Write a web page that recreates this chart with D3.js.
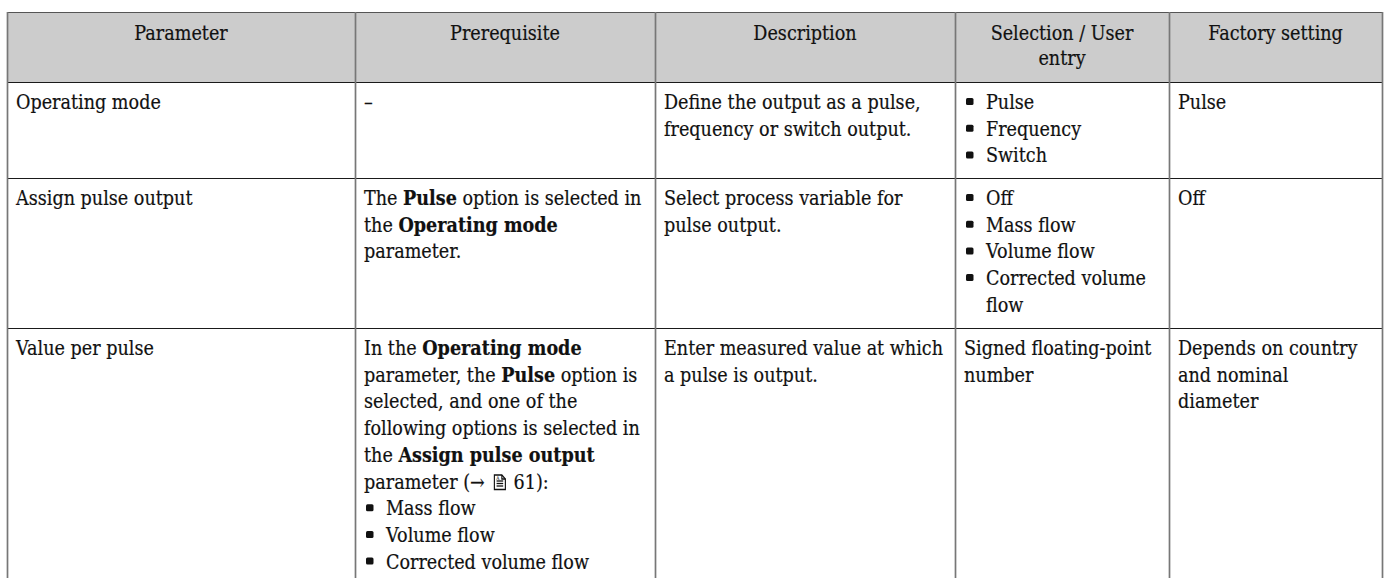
<!DOCTYPE html>
<html>
<head>
<meta charset="utf-8">
<script src="https://cdn.jsdelivr.net/npm/d3@7"></script>
<style>
  html, body { margin: 0; padding: 0; background: #ffffff; }
  svg { display: block; }
</style>
</head>
<body>
<svg id="chart" width="1389" height="578"></svg>
<script>
// ---- Table data ----
const headers = [
  ["Parameter"],
  ["Prerequisite"],
  ["Description"],
  ["Selection / User", "entry"],
  ["Factory setting"]
];

// "• " = bullet item, "> " = continuation of a bullet item, **x** = bold, {page} = page-reference icon
const rowOperatingMode = [
  ["Operating mode"],
  ["–"],
  ["Define the output as a pulse,", "frequency or switch output."],
  ["• Pulse", "• Frequency", "• Switch"],
  ["Pulse"]
];
const rowAssignPulse = [
  ["Assign pulse output"],
  ["The **Pulse** option is selected in", "the **Operating mode**", "parameter."],
  ["Select process variable for", "pulse output."],
  ["• Off", "• Mass flow", "• Volume flow", "• Corrected volume", "> flow"],
  ["Off"]
];
const rowValuePerPulse = [
  ["Value per pulse"],
  ["In the **Operating mode**", "parameter, the **Pulse** option is", "selected, and one of the",
   "following options is selected in", "the **Assign pulse output**", "parameter (→ {page} 61):",
   "• Mass flow", "• Volume flow", "• Corrected volume flow"],
  ["Enter measured value at which", "a pulse is output."],
  ["Signed floating-point", "number"],
  ["Depends on country", "and nominal", "diameter"]
];
const rows = [rowOperatingMode, rowAssignPulse, rowValuePerPulse];

// ---- Layout ----
const colWidths = [348, 300, 300, 214, 213];
const rowHeights = [70, 96, 150, 262];
const tableX = 7, tableY = 12;
const padX = 9, bulletX = 11, bulletIndent = 31;
const lineH = 26.7, firstBase = 27, headLineH = 25, headBase = 28;
const fontSize = 20, sx = 0.88;
const FONT = "'DejaVu Serif', serif";
const INK = "#111111";

const colEdges = [tableX, ...d3.cumsum(colWidths).map(v => v + tableX)];
const rowEdges = [tableY, ...d3.cumsum(rowHeights).map(v => v + tableY)];
const xCol = d3.scaleOrdinal().domain(d3.range(colWidths.length)).range(colEdges.slice(0, -1));
const yRow = d3.scaleOrdinal().domain(d3.range(rowHeights.length)).range(rowEdges.slice(0, -1));

const svg = d3.select("#chart");

// header background
svg.append("rect")
  .attr("x", colEdges[0]).attr("y", rowEdges[0])
  .attr("width", colEdges[colEdges.length - 1] - colEdges[0])
  .attr("height", rowHeights[0])
  .attr("fill", "#cccccc");

// horizontal rules
svg.selectAll("line.h").data(rowEdges.slice(0, -1)).join("line")
  .attr("class", "h")
  .attr("x1", colEdges[0]).attr("x2", colEdges[colEdges.length - 1])
  .attr("y1", d => d + 0.5).attr("y2", d => d + 0.5)
  .attr("stroke", (d, i) => i === 0 ? "#555" : "#1a1a1a")
  .attr("stroke-width", 1.2);

// vertical rules
svg.selectAll("line.v").data(colEdges).join("line")
  .attr("class", "v")
  .attr("x1", d => d + 0.5).attr("x2", d => d + 0.5)
  .attr("y1", rowEdges[0]).attr("y2", 578)
  .attr("stroke", "#777777")
  .attr("stroke-width", 1.7);

function parseSegs(s) {
  const out = [];
  const re = /\*\*(.+?)\*\*|\{page\}|([^*{]+)/g;
  let m;
  while ((m = re.exec(s)) !== null) {
    if (m[0] === "{page}") out.push({ icon: true, t: "\u2003" });
    else if (m[1] !== undefined) out.push({ t: m[1], bold: true });
    else out.push({ t: m[2], bold: false });
  }
  return out;
}

function drawLine(x, y, str, anchor) {
  const g = svg.append("g").attr("transform", `translate(${x},${y}) scale(${sx},1)`);
  const t = g.append("text")
    .attr("x", 0).attr("y", 0)
    .attr("font-family", FONT)
    .attr("font-size", fontSize)
    .attr("fill", INK)
    .attr("stroke", INK)
    .attr("stroke-width", 0.2)
    .attr("text-anchor", anchor || "start")
    .attr("xml:space", "preserve")
    .style("white-space", "pre");
  const segs = parseSegs(str);
  let charIdx = 0, iconStart = null;
  segs.forEach(s => {
    if (s.icon) iconStart = charIdx;
    t.append("tspan").attr("font-weight", s.bold ? "bold" : "normal").text(s.t);
    charIdx += s.t.length;
  });
  if (iconStart !== null) {
    const node = t.node();
    const ix = node.getSubStringLength(0, iconStart) + 4;
    const ic = g.append("g").attr("transform", `translate(${ix},${-14})`)
      .attr("fill", "none").attr("stroke", INK).attr("stroke-width", 1.3);
    ic.append("path").attr("d", "M0.5,0.5 H9 L13,4.5 V15 H0.5 Z");
    ic.append("path").attr("d", "M9,0.5 V4.5 H13");
    [6.5, 9, 11.5].forEach(yy => ic.append("line").attr("x1", 3).attr("x2", 10.5).attr("y1", yy).attr("y2", yy));
    ic.append("text").attr("x", 2.5).attr("y", 5.5).attr("font-size", 5).attr("stroke", "none")
      .attr("fill", INK).attr("font-family", FONT).text("A");
  }
}

// header text
headers.forEach((lines, c) => {
  const cx = xCol(c) + colWidths[c] / 2;
  lines.forEach((ln, i) => drawLine(cx, yRow(0) + headBase + i * headLineH, ln, "middle"));
});

// body cells
rows.forEach((row, r) => {
  const top = yRow(r + 1);
  row.forEach((lines, c) => {
    const left = xCol(c);
    lines.forEach((ln, i) => {
      const y = top + firstBase + i * lineH;
      if (ln.startsWith("• ")) {
        svg.append("rect")
          .attr("x", left + bulletX).attr("y", y - 11)
          .attr("width", 7.5).attr("height", 7).attr("rx", 1.5)
          .attr("fill", INK);
        drawLine(left + bulletIndent, y, ln.slice(2));
      } else if (ln.startsWith("> ")) {
        drawLine(left + bulletIndent, y, ln.slice(2));
      } else {
        drawLine(left + padX, y, ln);
      }
    });
  });
});
</script>
</body>
</html>
